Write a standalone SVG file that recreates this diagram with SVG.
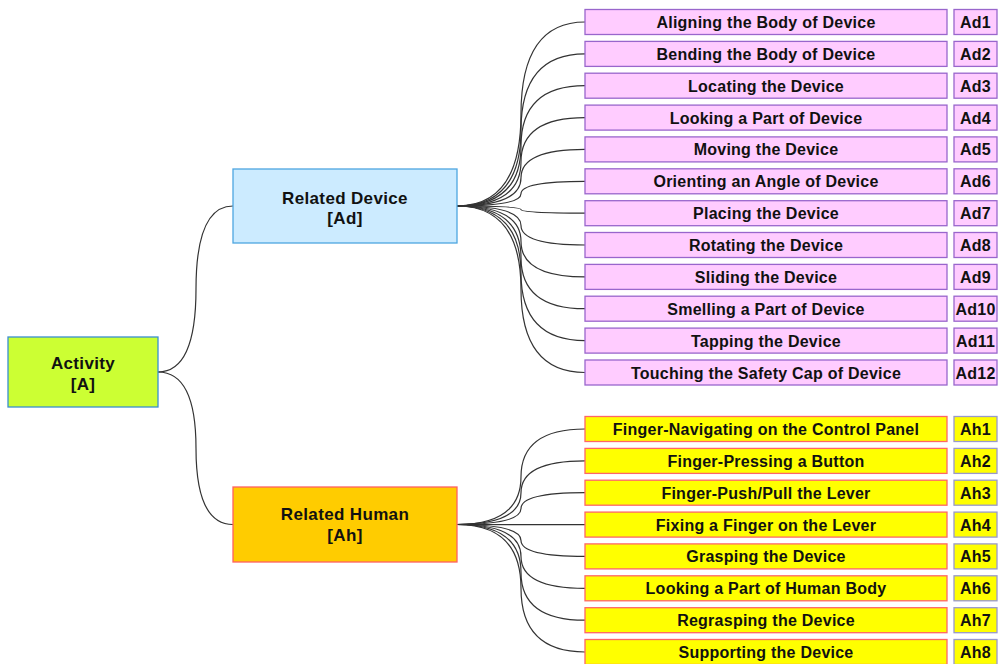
<svg xmlns="http://www.w3.org/2000/svg" width="998" height="664" viewBox="0 0 998 664">
<style>
text{font-family:"Liberation Sans",Arial,sans-serif;font-weight:bold;fill:#111;text-anchor:middle}
.main{font-size:17px;letter-spacing:0.35px}
.leaf{font-size:16px;letter-spacing:0.25px}
.ad{fill:#FFCCFF;stroke:#9966CC;stroke-width:1.3}
.ah{fill:#FFFF00;stroke:#FF6666;stroke-width:1.3}
.ahl{fill:#FFFF00;stroke:#9999CC;stroke-width:1.3}
#connectors path{fill:none;stroke:#333;stroke-width:1.2}
</style>
<rect width="998" height="664" fill="#fff"/>
<g id="connectors">
<path d="M158,372 Q196,372 196,289 Q196,206 233,206"/>
<path d="M158,372 Q196,372 196,448.2 Q196,524.5 233,524.5"/>
<path d="M457,206 Q521,206 521,114 Q521,22 585,22"/>
<path d="M457,206 Q521,206 521,130 Q521,53.9 585,53.9"/>
<path d="M457,206 Q521,206 521,145.9 Q521,85.7 585,85.7"/>
<path d="M457,206 Q521,206 521,161.8 Q521,117.6 585,117.6"/>
<path d="M457,206 Q521,206 521,177.7 Q521,149.4 585,149.4"/>
<path d="M457,206 Q521,206 521,193.7 Q521,181.3 585,181.3"/>
<path d="M457,206 Q521,206 521,209.6 Q521,213.2 585,213.2"/>
<path d="M457,206 Q521,206 521,225.5 Q521,245 585,245"/>
<path d="M457,206 Q521,206 521,241.5 Q521,276.9 585,276.9"/>
<path d="M457,206 Q521,206 521,257.4 Q521,308.7 585,308.7"/>
<path d="M457,206 Q521,206 521,273.3 Q521,340.6 585,340.6"/>
<path d="M457,206 Q521,206 521,289.3 Q521,372.5 585,372.5"/>
<path d="M457,524.5 Q521,524.5 521,476.8 Q521,429 585,429"/>
<path d="M457,524.5 Q521,524.5 521,492.7 Q521,460.9 585,460.9"/>
<path d="M457,524.5 Q521,524.5 521,508.6 Q521,492.7 585,492.7"/>
<path d="M457,524.5 L585,524.6"/>
<path d="M457,524.5 Q521,524.5 521,540.5 Q521,556.4 585,556.4"/>
<path d="M457,524.5 Q521,524.5 521,556.4 Q521,588.3 585,588.3"/>
<path d="M457,524.5 Q521,524.5 521,572.4 Q521,620.2 585,620.2"/>
<path d="M457,524.5 Q521,524.5 521,588.3 Q521,652 585,652"/>
</g>
<g id="activity">
<rect x="8" y="337" width="150" height="70" fill="#CCFF33" stroke="#3A8FD0" stroke-width="1.3"/>
<text class="main" x="83" y="369">Activity</text>
<text class="main" x="83" y="390">[A]</text>
</g>
<g id="related-device">
<rect x="233" y="169" width="224" height="74" fill="#CCEBFF" stroke="#4EA6E0" stroke-width="1.3"/>
<text class="main" x="345" y="204">Related Device</text>
<text class="main" x="345" y="224">[Ad]</text>
</g>
<g id="related-human">
<rect x="233" y="487" width="224" height="75" fill="#FFCC00" stroke="#FF6060" stroke-width="1.3"/>
<text class="main" x="345" y="520">Related Human</text>
<text class="main" x="345" y="541">[Ah]</text>
</g>
<g id="ad1"><rect class="ad" x="585" y="9.5" width="362" height="25"/><text class="leaf" x="766" y="28">Aligning the Body of Device</text><rect class="ad" x="954" y="9.5" width="43" height="25"/><text class="leaf" x="975.5" y="28">Ad1</text></g>
<g id="ad2"><rect class="ad" x="585" y="41.4" width="362" height="25"/><text class="leaf" x="766" y="59.9">Bending the Body of Device</text><rect class="ad" x="954" y="41.4" width="43" height="25"/><text class="leaf" x="975.5" y="59.9">Ad2</text></g>
<g id="ad3"><rect class="ad" x="585" y="73.2" width="362" height="25"/><text class="leaf" x="766" y="91.7">Locating the Device</text><rect class="ad" x="954" y="73.2" width="43" height="25"/><text class="leaf" x="975.5" y="91.7">Ad3</text></g>
<g id="ad4"><rect class="ad" x="585" y="105.1" width="362" height="25"/><text class="leaf" x="766" y="123.6">Looking a Part of Device</text><rect class="ad" x="954" y="105.1" width="43" height="25"/><text class="leaf" x="975.5" y="123.6">Ad4</text></g>
<g id="ad5"><rect class="ad" x="585" y="136.9" width="362" height="25"/><text class="leaf" x="766" y="155.4">Moving the Device</text><rect class="ad" x="954" y="136.9" width="43" height="25"/><text class="leaf" x="975.5" y="155.4">Ad5</text></g>
<g id="ad6"><rect class="ad" x="585" y="168.8" width="362" height="25"/><text class="leaf" x="766" y="187.3">Orienting an Angle of Device</text><rect class="ad" x="954" y="168.8" width="43" height="25"/><text class="leaf" x="975.5" y="187.3">Ad6</text></g>
<g id="ad7"><rect class="ad" x="585" y="200.7" width="362" height="25"/><text class="leaf" x="766" y="219.2">Placing the Device</text><rect class="ad" x="954" y="200.7" width="43" height="25"/><text class="leaf" x="975.5" y="219.2">Ad7</text></g>
<g id="ad8"><rect class="ad" x="585" y="232.5" width="362" height="25"/><text class="leaf" x="766" y="251">Rotating the Device</text><rect class="ad" x="954" y="232.5" width="43" height="25"/><text class="leaf" x="975.5" y="251">Ad8</text></g>
<g id="ad9"><rect class="ad" x="585" y="264.4" width="362" height="25"/><text class="leaf" x="766" y="282.9">Sliding the Device</text><rect class="ad" x="954" y="264.4" width="43" height="25"/><text class="leaf" x="975.5" y="282.9">Ad9</text></g>
<g id="ad10"><rect class="ad" x="585" y="296.2" width="362" height="25"/><text class="leaf" x="766" y="314.7">Smelling a Part of Device</text><rect class="ad" x="954" y="296.2" width="43" height="25"/><text class="leaf" x="975.5" y="314.7" letter-spacing="0">Ad10</text></g>
<g id="ad11"><rect class="ad" x="585" y="328.1" width="362" height="25"/><text class="leaf" x="766" y="346.6">Tapping the Device</text><rect class="ad" x="954" y="328.1" width="43" height="25"/><text class="leaf" x="975.5" y="346.6" letter-spacing="0">Ad11</text></g>
<g id="ad12"><rect class="ad" x="585" y="360" width="362" height="25"/><text class="leaf" x="766" y="378.5">Touching the Safety Cap of Device</text><rect class="ad" x="954" y="360" width="43" height="25"/><text class="leaf" x="975.5" y="378.5" letter-spacing="0">Ad12</text></g>
<g id="ah1"><rect class="ah" x="585" y="416.5" width="362" height="25"/><text class="leaf" x="766" y="435">Finger-Navigating on the Control Panel</text><rect class="ahl" x="954" y="416.5" width="43" height="25"/><text class="leaf" x="975.5" y="435">Ah1</text></g>
<g id="ah2"><rect class="ah" x="585" y="448.4" width="362" height="25"/><text class="leaf" x="766" y="466.9">Finger-Pressing a Button</text><rect class="ahl" x="954" y="448.4" width="43" height="25"/><text class="leaf" x="975.5" y="466.9">Ah2</text></g>
<g id="ah3"><rect class="ah" x="585" y="480.2" width="362" height="25"/><text class="leaf" x="766" y="498.7">Finger-Push/Pull the Lever</text><rect class="ahl" x="954" y="480.2" width="43" height="25"/><text class="leaf" x="975.5" y="498.7">Ah3</text></g>
<g id="ah4"><rect class="ah" x="585" y="512.1" width="362" height="25"/><text class="leaf" x="766" y="530.6">Fixing a Finger on the Lever</text><rect class="ahl" x="954" y="512.1" width="43" height="25"/><text class="leaf" x="975.5" y="530.6">Ah4</text></g>
<g id="ah5"><rect class="ah" x="585" y="543.9" width="362" height="25"/><text class="leaf" x="766" y="562.4">Grasping the Device</text><rect class="ahl" x="954" y="543.9" width="43" height="25"/><text class="leaf" x="975.5" y="562.4">Ah5</text></g>
<g id="ah6"><rect class="ah" x="585" y="575.8" width="362" height="25"/><text class="leaf" x="766" y="594.3">Looking a Part of Human Body</text><rect class="ahl" x="954" y="575.8" width="43" height="25"/><text class="leaf" x="975.5" y="594.3">Ah6</text></g>
<g id="ah7"><rect class="ah" x="585" y="607.7" width="362" height="25"/><text class="leaf" x="766" y="626.2">Regrasping the Device</text><rect class="ahl" x="954" y="607.7" width="43" height="25"/><text class="leaf" x="975.5" y="626.2">Ah7</text></g>
<g id="ah8"><rect class="ah" x="585" y="639.5" width="362" height="25"/><text class="leaf" x="766" y="658">Supporting the Device</text><rect class="ahl" x="954" y="639.5" width="43" height="25"/><text class="leaf" x="975.5" y="658">Ah8</text></g>
</svg>
